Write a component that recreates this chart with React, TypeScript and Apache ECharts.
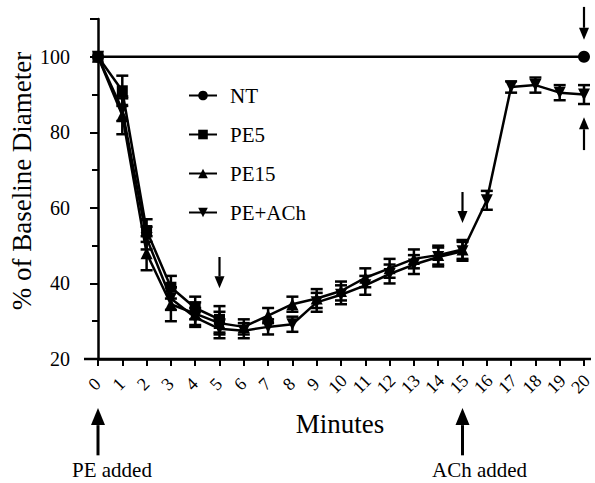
import React, { useEffect, useRef } from "react";
import * as echarts from "echarts";

const FONT = "Liberation Serif, Times New Roman, serif";

const minutes = [0, 1, 2, 3, 4, 5, 6, 7, 8, 9, 10, 11, 12, 13, 14, 15, 16, 17, 18, 19, 20];
const minuteLabels = ["0", "1", "2", "3", "4", "5", "6", "7", "8", "9", "10", "11", "12", "13", "14", "15", "16", "17", "18", "19", "20"];
const ntMinutes = [0, 20];
const ntValues = [100, 100];
const pe5Values = [100, 91, 54, 39, 33.5, 30.5];
const pe5Errors = [0, 4, 3, 3, 3, 3.5];
const pe15Values = [100, 84.5, 48, 34.5, 32, 29.5, 28.5, 31.5, 34.5, 36, 38, 41.5, 44, 46.5, 47.5, 49];
const pe15Errors = [0, 5, 4.5, 4.5, 3, 3, 2, 2, 2, 2.5, 2.5, 2.5, 2.5, 2.5, 2.5, 2.5];
const peAchValues = [100, 86, 52, 36, 31, 28, 27.5, 28.5, 29.2, 35, 37, 39.5, 42.5, 45, 47, 48.5, 62, 92, 92.5, 90.5, 90];
const peAchErrors = [0, 3, 3, 3, 2.5, 2.5, 2, 2, 2, 2.5, 2.5, 2.5, 2.5, 2.5, 2.5, 2.5, 2.5, 1.5, 2, 2, 2.5];

// annotation arrows: minute, tail value, tip value
const arrows = [
  { x: 5, from: 47, to: 38.7 },
  { x: 15, from: 64.2, to: 56 },
  { x: 20, from: 113.2, to: 104.5 },
  { x: 20, from: 75.3, to: 84 },
  { x: 0, from: -5.5, to: 7, big: true },
  { x: 15, from: -5.5, to: 7, big: true },
];
const notes = [
  { x: 0, text: "PE added", dx: 14 },
  { x: 15, text: "ACh added", dx: 17 },
];

function pairs(xs: number[], ys: number[]) {
  return ys.map((v, i) => [xs[i], v]);
}
function triples(xs: number[], ys: number[], es: number[]) {
  return ys.map((v, i) => [xs[i], v, es[i]]);
}

const errData = [
  ...triples(minutes, pe5Values, pe5Errors),
  ...triples(minutes, pe15Values, pe15Errors),
  ...triples(minutes, peAchValues, peAchErrors),
].filter((d) => d[2] > 0);

export default function App() {
  const ref = useRef<HTMLDivElement>(null);
  useEffect(() => {
    if (!ref.current) return;
    document.body.style.margin = "0";
    const chart = echarts.init(ref.current, undefined, { renderer: "svg" });
    const lineStyle = { color: "#000", width: 2.5 };
    const itemStyle = { color: "#000" };
    const option: any = {
      animation: false,
      backgroundColor: "#fff",
      textStyle: { fontFamily: FONT },
      grid: { left: 98, right: 11, top: 19, bottom: 124 },
      legend: {
        data: ["NT", "PE5", "PE15", "PE+ACh"],
        orient: "vertical",
        left: 183,
        top: 80,
        itemWidth: 28,
        itemHeight: 12,
        itemGap: 18,
        textStyle: { fontFamily: FONT, fontSize: 21, color: "#000", padding: [0, 0, 0, 8] },
      },
      xAxis: {
        type: "value",
        min: 0,
        max: 20,
        interval: 1,
        axisLine: { show: true, onZero: false, lineStyle: { color: "#000", width: 2.5 } },
        axisTick: { show: true, length: 7, lineStyle: { color: "#000", width: 2 } },
        axisLabel: { show: false },
        splitLine: { show: false },
      },
      yAxis: {
        type: "value",
        min: 20,
        max: 110,
        interval: 20,
        offset: 13,
        axisLine: { show: true, lineStyle: { color: "#000", width: 2.5 } },
        axisTick: { show: true, length: 8, lineStyle: { color: "#000", width: 2 } },
        minorTick: { show: true, splitNumber: 2, length: 6, lineStyle: { color: "#000", width: 2 } },
        axisLabel: { fontFamily: FONT, fontSize: 20, color: "#000", margin: 15, showMaxLabel: false },
        splitLine: { show: false },
      },
      series: [
        {
          name: "errors",
          type: "custom",
          data: errData,
          z: 1,
          renderItem: (params: any, api: any) => {
            const x = api.value(0);
            const y = api.value(1);
            const e = api.value(2);
            const top = api.coord([x, y + e]);
            const bot = api.coord([x, y - e]);
            const cw = 6;
            const st = { stroke: "#000", lineWidth: 2.5 };
            return {
              type: "group",
              children: [
                { type: "line", shape: { x1: top[0], y1: top[1], x2: bot[0], y2: bot[1] }, style: st },
                { type: "line", shape: { x1: top[0] - cw, y1: top[1], x2: top[0] + cw, y2: top[1] }, style: st },
                { type: "line", shape: { x1: bot[0] - cw, y1: bot[1], x2: bot[0] + cw, y2: bot[1] }, style: st },
              ],
            };
          },
        },
        {
          name: "NT",
          type: "line",
          data: pairs(ntMinutes, ntValues),
          symbol: "circle",
          symbolSize: 12,
          lineStyle,
          itemStyle,
          clip: false,
          z: 3,
        },
        {
          name: "PE5",
          type: "line",
          data: pairs(minutes, pe5Values),
          symbol: "rect",
          symbolSize: 11,
          lineStyle,
          itemStyle,
          clip: false,
          z: 3,
        },
        {
          name: "PE15",
          type: "line",
          data: pairs(minutes, pe15Values),
          symbol: "triangle",
          symbolSize: 12,
          lineStyle,
          itemStyle,
          clip: false,
          z: 3,
        },
        {
          name: "PE+ACh",
          type: "line",
          data: pairs(minutes, peAchValues),
          symbol: "triangle",
          symbolRotate: 180,
          symbolSize: 12,
          lineStyle,
          itemStyle,
          clip: false,
          z: 3,
        },
      ],
    };
    chart.setOption(option);

    const graphics: any[] = [];
    // extend the x axis line to meet the offset y axis and past the last minute
    const p0 = chart.convertToPixel({ gridIndex: 0 }, [0, 20]);
    const p20 = chart.convertToPixel({ gridIndex: 0 }, [20, 20]);
    graphics.push({
      type: "line",
      shape: { x1: p0[0] - 14, y1: p0[1], x2: p20[0] + 7, y2: p20[1] },
      style: { stroke: "#000", lineWidth: 2.5 },
      z: 5,
    });
    // rotated minute tick labels, placed at each tick
    minutes.forEach((m, i) => {
      const p = chart.convertToPixel({ gridIndex: 0 }, [m, 20]);
      graphics.push({
        type: "text",
        x: p[0] - 3.5,
        y: p[1] + 25,
        rotation: Math.PI / 4,
        style: { text: minuteLabels[i], fontFamily: FONT, fontSize: 18, fill: "#000", textAlign: "center", textVerticalAlign: "middle" },
      });
    });
    arrows.forEach((a) => {
      const tail = chart.convertToPixel({ gridIndex: 0 }, [a.x, a.from]);
      const tip = chart.convertToPixel({ gridIndex: 0 }, [a.x, a.to]);
      const dir = tip[1] > tail[1] ? 1 : -1;
      const headLen = a.big ? 17 : 12;
      const headW = a.big ? 7 : 5;
      const baseY = tip[1] - dir * headLen;
      graphics.push({
        type: "line",
        shape: { x1: tail[0], y1: tail[1], x2: tip[0], y2: baseY },
        style: { stroke: "#000", lineWidth: a.big ? 3 : 2.2 },
        z: 10,
      });
      graphics.push({
        type: "polygon",
        shape: { points: [[tip[0], tip[1]], [tip[0] - headW, baseY], [tip[0] + headW, baseY]] },
        style: { fill: "#000" },
        z: 10,
      });
    });
    notes.forEach((n) => {
      const p = chart.convertToPixel({ gridIndex: 0 }, [n.x, 20]);
      graphics.push({
        type: "text",
        x: p[0] + n.dx,
        y: 470,
        style: { text: n.text, fontFamily: FONT, fontSize: 21, fill: "#000", textAlign: "center", textVerticalAlign: "middle" },
        z: 10,
      });
    });
    graphics.push({
      type: "text",
      x: 340,
      y: 424,
      style: { text: "Minutes", fontFamily: FONT, fontSize: 27, fill: "#000", textAlign: "center", textVerticalAlign: "middle" },
    });
    graphics.push({
      type: "text",
      x: 22,
      y: 181,
      rotation: Math.PI / 2,
      style: { text: "% of Baseline Diameter", fontFamily: FONT, fontSize: 27, fill: "#000", textAlign: "center", textVerticalAlign: "middle" },
    });
    chart.setOption({ graphic: graphics });

    return () => chart.dispose();
  }, []);
  return <div ref={ref} style={{ width: 595, height: 483 }} />;
}
